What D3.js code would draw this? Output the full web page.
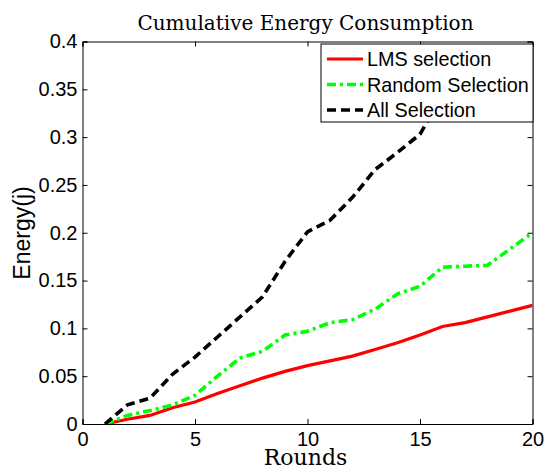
<!DOCTYPE html>
<html>
<head>
<meta charset="utf-8">
<script src="https://cdn.jsdelivr.net/npm/d3@7"></script>
<style>
  body { margin: 0; background: #fff; }
  svg text { font-family: "Liberation Sans", Arial, sans-serif; }
</style>
</head>
<body>
<script>
// data
var rounds = [1, 2, 3, 4, 5, 6, 7, 8, 9, 10, 11, 12, 13, 14, 15, 16, 17, 18, 19, 20];
var lmsSel = [0, 0.005, 0.009, 0.017, 0.023, 0.032, 0.040, 0.048, 0.055, 0.061,
              0.066, 0.071, 0.078, 0.085, 0.093, 0.102, 0.106, 0.112, 0.118, 0.124];
var randomSel = [0, 0.009, 0.014, 0.020, 0.030, 0.050, 0.069, 0.076, 0.093, 0.097,
                 0.106, 0.109, 0.120, 0.136, 0.144, 0.164, 0.165, 0.166, 0.183, 0.200];
var allSel = [0, 0.020, 0.027, 0.052, 0.070, 0.091, 0.112, 0.133, 0.170, 0.201,
              0.213, 0.237, 0.266, 0.284, 0.303, 0.345, 0.36, 0.375, 0.385, 0.395];
var seriesNames = ["LMS selection", "Random Selection", "All Selection"];
var xTicks = [0, 5, 10, 15, 20];
var yTicks = [0, 0.05, 0.1, 0.15, 0.2, 0.25, 0.3, 0.35, 0.4];

var W = 546, H = 466;
var margin = {top: 41.5, right: 13.5, bottom: 42, left: 82.5};
var width = W - margin.left - margin.right,
    height = H - margin.top - margin.bottom;

var svg = d3.select("body").append("svg")
    .attr("width", W)
    .attr("height", H);

var g = svg.append("g")
    .attr("transform", "translate(" + margin.left + "," + margin.top + ")");

var x = d3.scaleLinear().domain([0, 20]).range([0, width]);
var y = d3.scaleLinear().domain([0, 0.4]).range([height, 0]);

g.append("defs").append("clipPath").attr("id", "clip")
  .append("rect").attr("width", width).attr("height", height);

// lines
var series = [
  {name: seriesNames[0], values: lmsSel, color: "#ff0000", dash: null, w: 3.2},
  {name: seriesNames[1], values: randomSel, color: "#00ff00", dash: "9,4,3,4", w: 3.6},
  {name: seriesNames[2], values: allSel, color: "#000000", dash: "9,5", w: 3.6}
];

var line = d3.line()
    .x(function(d, i) { return x(rounds[i]); })
    .y(function(d) { return y(d); });

g.append("g").attr("clip-path", "url(#clip)")
  .selectAll("path")
  .data(series)
  .enter().append("path")
    .attr("fill", "none")
    .attr("stroke", function(d) { return d.color; })
    .attr("stroke-width", function(d) { return d.w; })
    .attr("stroke-dasharray", function(d) { return d.dash; })
    .attr("d", function(d) { return line(d.values); });

// axes, matlab style: ticks inside, box all round
function fmt(v) { return d3.format("~g")(+v.toFixed(2)); }

g.append("g")
    .attr("transform", "translate(0," + height + ")")
    .call(d3.axisBottom(x).tickValues(xTicks).tickSize(-5).tickPadding(8).tickFormat(fmt));
g.append("g")
    .call(d3.axisLeft(y).tickValues(yTicks).tickSize(-5).tickPadding(5).tickFormat(fmt));
g.append("g")
    .call(d3.axisTop(x).tickValues(xTicks).tickSize(-5).tickFormat(""));
g.append("g")
    .attr("transform", "translate(" + width + ",0)")
    .call(d3.axisRight(y).tickValues(yTicks).tickSize(-5).tickFormat(""));

g.selectAll(".domain").attr("stroke", "#000");
g.selectAll(".tick line").attr("stroke", "#000");
g.selectAll(".tick text")
    .attr("fill", "#000")
    .style("font-size", "20px");

// legend
var legend = svg.append("g").attr("transform", "translate(321,44)");
legend.append("rect")
    .attr("width", 212).attr("height", 78)
    .attr("fill", "#fff").attr("stroke", "#000").attr("stroke-width", 1);

var items = legend.selectAll(".item")
    .data(series)
    .enter().append("g")
    .attr("transform", function(d, i) { return "translate(0," + (15 + i * 25.5) + ")"; });
items.append("line")
    .attr("x1", 6).attr("x2", 42)
    .attr("stroke", function(d) { return d.color; })
    .attr("stroke-width", function(d) { return d.w; })
    .attr("stroke-dasharray", function(d) { return d.dash; });
items.append("text")
    .attr("x", 46).attr("y", 7)
    .style("font-size", "19.8px")
    .text(function(d) { return d.name; });

// titles
svg.append("text")
    .attr("x", margin.left + width / 2 - 2).attr("y", 30)
    .attr("text-anchor", "middle")
    .style("font-family", "'DejaVu Serif', serif")
    .style("font-size", "20px")
    .text("Cumulative Energy Consumption");

svg.append("text")
    .attr("x", margin.left + width / 2 - 2).attr("y", 465)
    .attr("text-anchor", "middle")
    .style("font-family", "'DejaVu Serif', serif")
    .style("font-size", "22px")
    .text("Rounds");

svg.append("text")
    .attr("transform", "translate(30,233) rotate(-90)")
    .attr("text-anchor", "middle")
    .style("font-size", "23px")
    .text("Energy(j)");
</script>
</body>
</html>
